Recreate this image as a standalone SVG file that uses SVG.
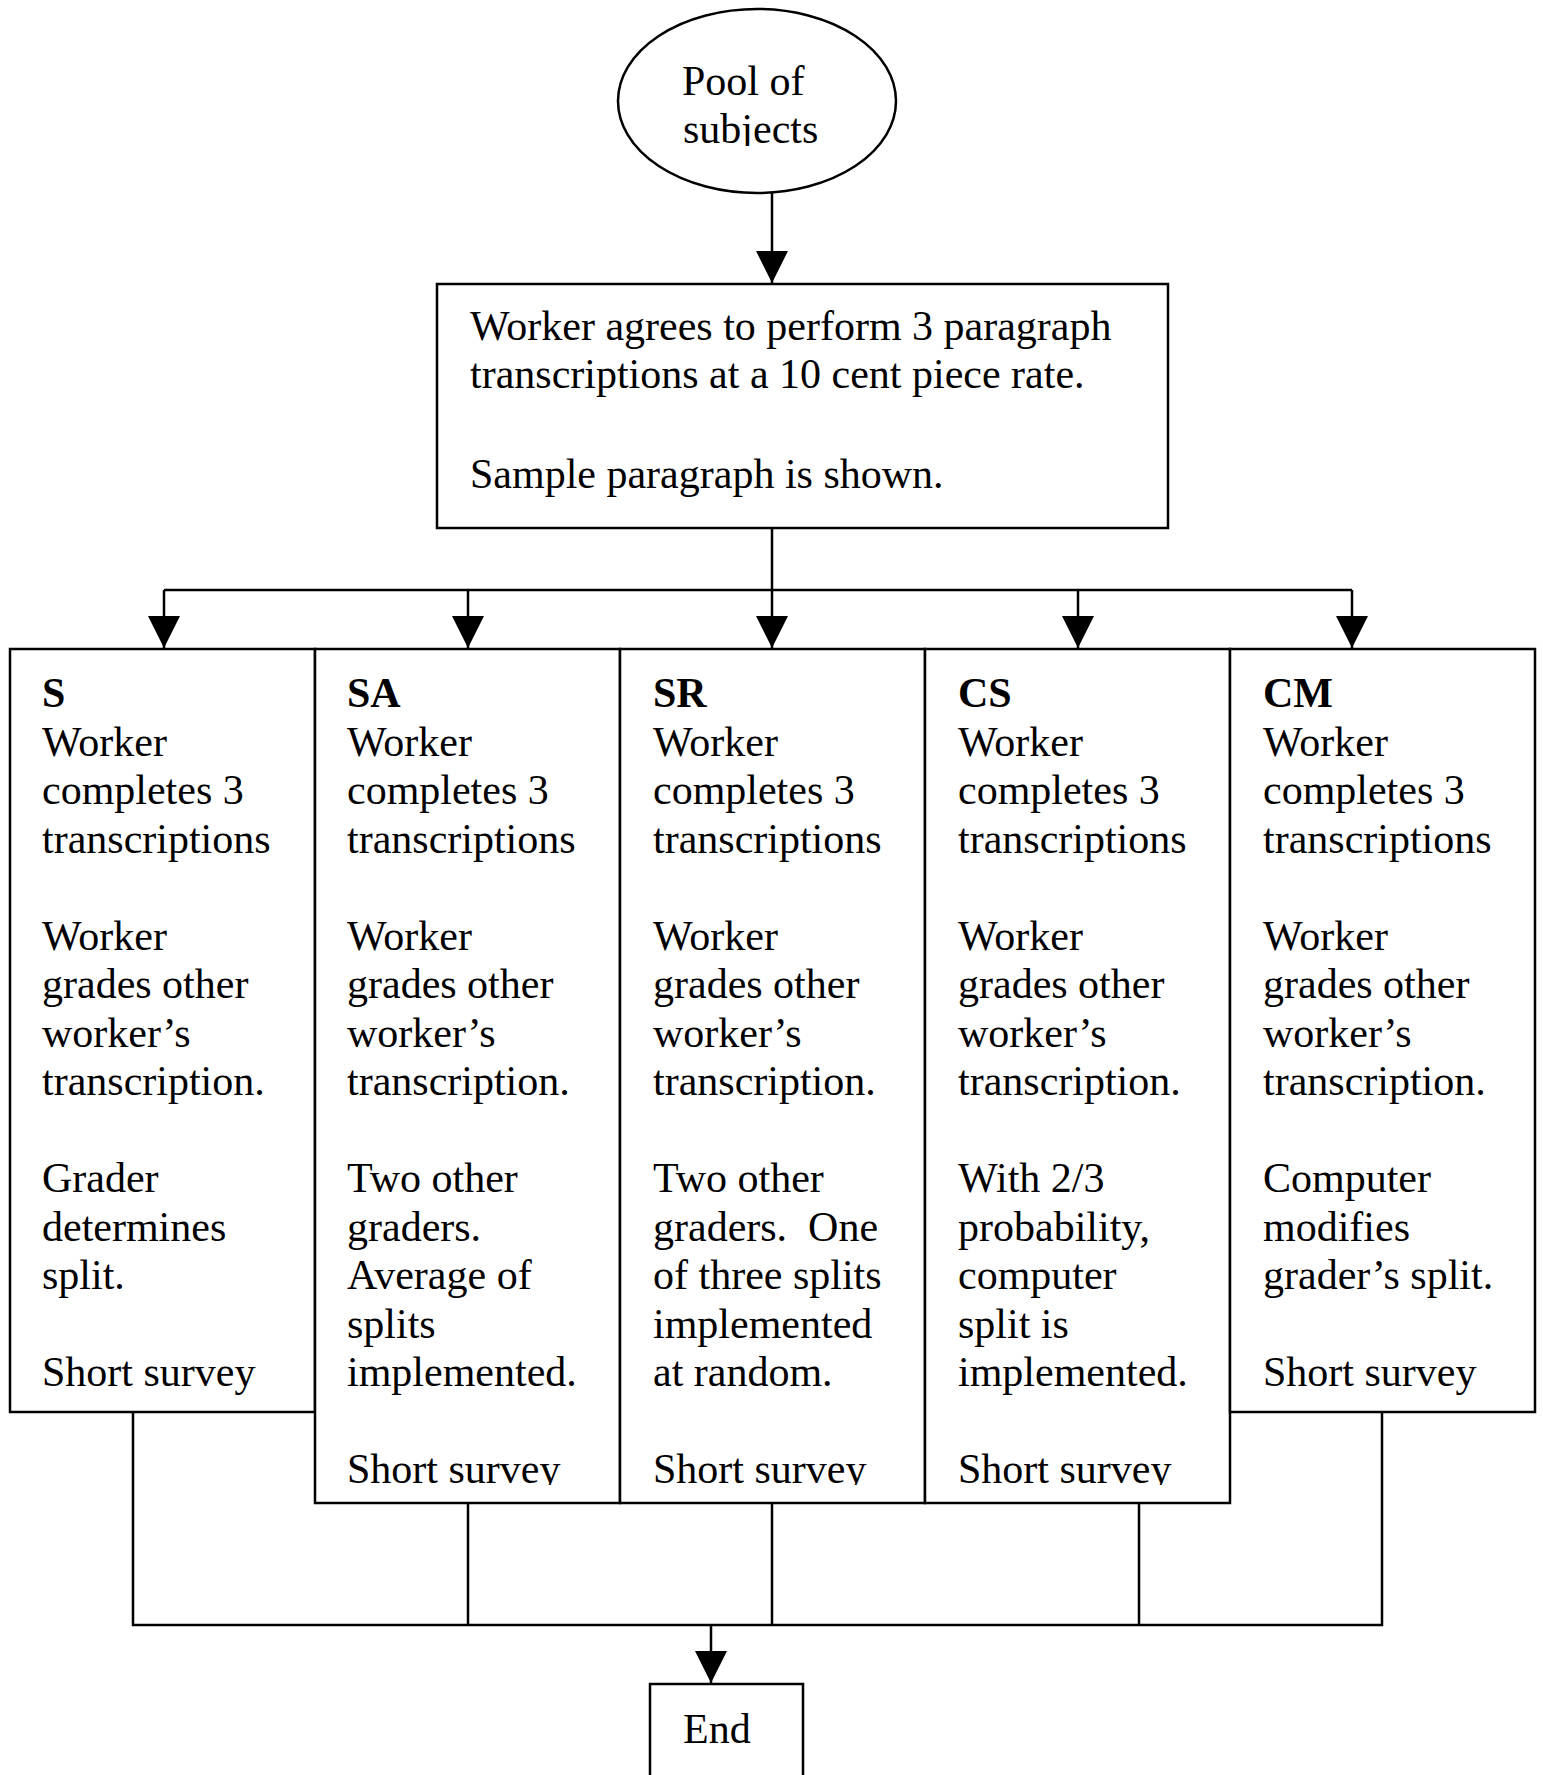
<svg xmlns="http://www.w3.org/2000/svg" width="1543" height="1775" viewBox="0 0 1543 1775">
<style>
.box{fill:#fff;stroke:#000;stroke-width:2.5}
.ln{fill:none;stroke:#000;stroke-width:2.5}
text{font-family:"Liberation Serif","Times New Roman",serif;font-size:42px;fill:#000;white-space:pre}
.b{font-weight:bold}
</style>
<defs>
<marker id="ah" markerUnits="userSpaceOnUse" markerWidth="32" markerHeight="32" refX="32" refY="16" orient="auto">
<path d="M0,0 L32,16 L0,32 z" fill="#000"/>
</marker>
<clipPath id="clipPool"><rect x="600" y="0" width="320" height="146"/></clipPath>
<clipPath id="clipSurvey"><rect x="0" y="0" width="1543" height="1485"/></clipPath>
</defs>
<g id="connectors">
<path class="ln" d="M772,193 L772,283" marker-end="url(#ah)"/>
<path class="ln" d="M772,528 L772,590 M164,590 L1352,590"/>
<path class="ln" d="M164,590 L164,648" marker-end="url(#ah)"/>
<path class="ln" d="M468,590 L468,648" marker-end="url(#ah)"/>
<path class="ln" d="M772,590 L772,648" marker-end="url(#ah)"/>
<path class="ln" d="M1078,590 L1078,648" marker-end="url(#ah)"/>
<path class="ln" d="M1352,590 L1352,648" marker-end="url(#ah)"/>
<path class="ln" d="M133,1412 L133,1625 L1382,1625 L1382,1412 M468,1503 L468,1625 M772,1503 L772,1625 M1139,1503 L1139,1625"/>
<path class="ln" d="M711,1625 L711,1683" marker-end="url(#ah)"/>
</g>
<g id="pool">
<ellipse class="box" cx="757" cy="101" rx="139" ry="92"/>
<g clip-path="url(#clipPool)">
<text x="682" y="95">Pool of</text>
<text x="683" y="143">subjects</text>
</g>
</g>
<g id="agree">
<rect class="box" x="437" y="284" width="731" height="244"/>
<text x="470" y="340">Worker agrees to perform 3 paragraph</text>
<text x="470" y="388">transcriptions at a 10 cent piece rate.</text>
<text x="470" y="488">Sample paragraph is shown.</text>
</g>
<g id="S">
<rect class="box" x="10" y="649" width="305" height="763"/>
<text x="42" y="707" class="b">S</text>
<text x="42" y="755.5">Worker</text>
<text x="42" y="804">completes 3</text>
<text x="42" y="852.5">transcriptions</text>
<text x="42" y="949.5">Worker</text>
<text x="42" y="998">grades other</text>
<text x="42" y="1046.5">worker’s</text>
<text x="42" y="1095">transcription.</text>
<text x="42" y="1192">Grader</text>
<text x="42" y="1240.5">determines</text>
<text x="42" y="1289">split.</text>
<text x="42" y="1386">Short survey</text>
</g>
<g id="SA">
<rect class="box" x="315" y="649" width="305" height="854"/>
<text x="347" y="707" class="b">SA</text>
<text x="347" y="755.5">Worker</text>
<text x="347" y="804">completes 3</text>
<text x="347" y="852.5">transcriptions</text>
<text x="347" y="949.5">Worker</text>
<text x="347" y="998">grades other</text>
<text x="347" y="1046.5">worker’s</text>
<text x="347" y="1095">transcription.</text>
<text x="347" y="1192">Two other</text>
<text x="347" y="1240.5">graders.</text>
<text x="347" y="1289">Average of</text>
<text x="347" y="1337.5">splits</text>
<text x="347" y="1386">implemented.</text>
<text x="347" y="1483" clip-path="url(#clipSurvey)">Short survey</text>
</g>
<g id="SR">
<rect class="box" x="620" y="649" width="305" height="854"/>
<text x="653" y="707" class="b">SR</text>
<text x="653" y="755.5">Worker</text>
<text x="653" y="804">completes 3</text>
<text x="653" y="852.5">transcriptions</text>
<text x="653" y="949.5">Worker</text>
<text x="653" y="998">grades other</text>
<text x="653" y="1046.5">worker’s</text>
<text x="653" y="1095">transcription.</text>
<text x="653" y="1192">Two other</text>
<text x="653" y="1240.5">graders.  One</text>
<text x="653" y="1289">of three splits</text>
<text x="653" y="1337.5">implemented</text>
<text x="653" y="1386">at random.</text>
<text x="653" y="1483" clip-path="url(#clipSurvey)">Short survey</text>
</g>
<g id="CS">
<rect class="box" x="925" y="649" width="305" height="854"/>
<text x="958" y="707" class="b">CS</text>
<text x="958" y="755.5">Worker</text>
<text x="958" y="804">completes 3</text>
<text x="958" y="852.5">transcriptions</text>
<text x="958" y="949.5">Worker</text>
<text x="958" y="998">grades other</text>
<text x="958" y="1046.5">worker’s</text>
<text x="958" y="1095">transcription.</text>
<text x="958" y="1192">With 2/3</text>
<text x="958" y="1240.5">probability,</text>
<text x="958" y="1289">computer</text>
<text x="958" y="1337.5">split is</text>
<text x="958" y="1386">implemented.</text>
<text x="958" y="1483" clip-path="url(#clipSurvey)">Short survey</text>
</g>
<g id="CM">
<rect class="box" x="1230" y="649" width="305" height="763"/>
<text x="1263" y="707" class="b">CM</text>
<text x="1263" y="755.5">Worker</text>
<text x="1263" y="804">completes 3</text>
<text x="1263" y="852.5">transcriptions</text>
<text x="1263" y="949.5">Worker</text>
<text x="1263" y="998">grades other</text>
<text x="1263" y="1046.5">worker’s</text>
<text x="1263" y="1095">transcription.</text>
<text x="1263" y="1192">Computer</text>
<text x="1263" y="1240.5">modifies</text>
<text x="1263" y="1289">grader’s split.</text>
<text x="1263" y="1386">Short survey</text>
</g>
<g id="end">
<rect class="box" x="650" y="1684" width="153" height="100"/>
<text x="683" y="1743">End</text>
</g>
</svg>
